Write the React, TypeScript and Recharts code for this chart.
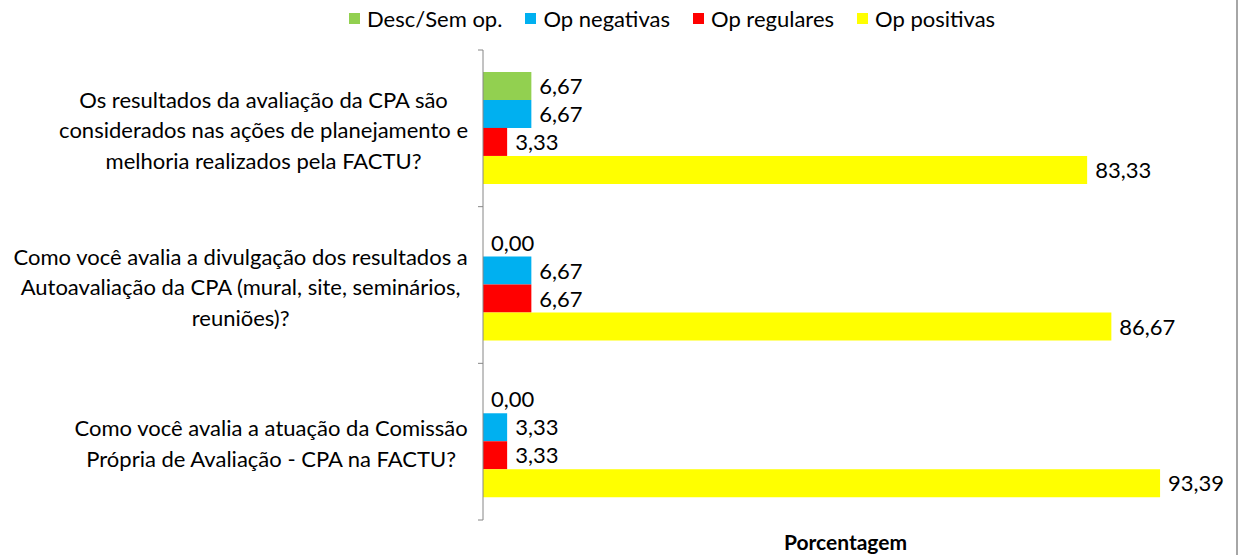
import React from 'react';
import { BarChart, Bar, XAxis, YAxis, Legend, LabelList } from 'recharts';

const categories = [
  'Os resultados da avaliação da CPA são\nconsiderados nas ações de planejamento e\nmelhoria realizados pela FACTU?',
  'Como você avalia a divulgação dos resultados a\nAutoavaliação da CPA (mural, site, seminários,\nreuniões)?',
  'Como você avalia a atuação da Comissão\nPrópria de Avaliação - CPA na FACTU?',
];
const descSemOp = [6.67, 0, 0];
const opNegativas = [6.67, 6.67, 3.33];
const opRegulares = [3.33, 6.67, 3.33];
const opPositivas = [83.33, 86.67, 93.39];
const seriesNames = ['Desc/Sem op.', 'Op negativas', 'Op regulares', 'Op positivas'];
const xDomain = [0, 100];
const axisTitle = 'Porcentagem';

const FONT = 'Lato, Carlito, Calibri, sans-serif';
const W = 1238;
const H = 555;
const PLOT_LEFT = 483;
const LABEL_RIGHT = 468;
const AXIS_GRAY = '#868686';

const series = [
  { key: 'desc', name: seriesNames[0], color: '#92D050' },
  { key: 'neg', name: seriesNames[1], color: '#00B0F0' },
  { key: 'reg', name: seriesNames[2], color: '#FF0000' },
  { key: 'pos', name: seriesNames[3], color: '#FFFF00' },
];

const data = categories.map((name, i) => ({
  name,
  desc: descSemOp[i],
  neg: opNegativas[i],
  reg: opRegulares[i],
  pos: opPositivas[i],
}));

let ctx: CanvasRenderingContext2D | null = null;
const measure = (s: string) => {
  if (!ctx) ctx = document.createElement('canvas').getContext('2d');
  if (!ctx) return s.length * 10;
  ctx.font = `22px ${FONT}`;
  return ctx.measureText(s).width;
};

const fmt = (v: any) => Number(v).toFixed(2).replace('.', ',');

const ValueLabel = (props: any) => {
  const { x, y, width, height, value } = props;
  if (value === undefined || value === null) return null;
  return (
    <text
      x={Number(x) + Number(width || 0) + 8}
      y={Number(y) + Number(height) / 2}
      dy="0.36em"
      fontFamily={FONT}
      fontSize={22}
      fill="#000"
    >
      {fmt(value)}
    </text>
  );
};

const CategoryTick = (props: any) => {
  const { y, payload, index } = props;
  const lines = String(payload.value).split('\n');
  const widest = Math.max(...lines.map(measure));
  const cx = LABEL_RIGHT - widest / 2;
  const half = payload.offset || (520 - 50) / categories.length / 2;
  const n = lines.length;
  return (
    <g>
      <line x1={PLOT_LEFT} x2={PLOT_LEFT - 5} y1={y - half} y2={y - half} stroke={AXIS_GRAY} />
      {index === categories.length - 1 && (
        <line x1={PLOT_LEFT} x2={PLOT_LEFT - 5} y1={y + half} y2={y + half} stroke={AXIS_GRAY} />
      )}
      <text textAnchor="middle" fontSize={22} fontFamily={FONT} fill="#000">
        {lines.map((l, i) => (
          <tspan key={i} x={cx} y={y + 10 + (i - (n - 1) / 2) * 30.5}>
            {l}
          </tspan>
        ))}
      </text>
    </g>
  );
};

const LegendContent = () => (
  <div
    style={{
      height: 36,
      display: 'flex',
      alignItems: 'center',
      paddingLeft: 349,
      fontFamily: FONT,
      fontSize: 22,
      color: '#000',
    }}
  >
    {series.map((s) => (
      <div key={s.key} style={{ display: 'flex', alignItems: 'center', marginRight: 23 }}>
        <span style={{ width: 11, height: 11, background: s.color, marginRight: 7, display: 'inline-block' }} />
        {s.name}
      </div>
    ))}
  </div>
);

export default function App() {
  return (
    <div style={{ position: 'absolute', left: 0, top: 0, width: W, height: H, background: '#fff' }}>
      <BarChart
        width={W}
        height={H}
        data={data}
        layout="vertical"
        margin={{ top: 14, right: 30, bottom: 0, left: 0 }}
        barCategoryGap="14%"
        barGap={0}
      >
        <Legend
          verticalAlign="top"
          align="left"
          content={<LegendContent />}
          wrapperStyle={{ left: 0, top: 0, width: W }}
        />
        <XAxis
          type="number"
          domain={xDomain}
          tick={false}
          axisLine={false}
          tickLine={false}
          height={35}
          label={{
            value: axisTitle,
            position: 'insideBottom',
            offset: 5,
            style: { fontFamily: FONT, fontSize: 21, fontWeight: 'bold', fill: '#000' },
          }}
        />
        <YAxis
          type="category"
          dataKey="name"
          width={PLOT_LEFT}
          axisLine={{ stroke: AXIS_GRAY }}
          tickLine={false}
          tick={<CategoryTick />}
          interval={0}
        />
        {series.map((s) => (
          <Bar
            key={s.key}
            dataKey={s.key}
            name={s.name}
            fill={s.color}
            minPointSize={0.01}
            isAnimationActive={false}
          >
            <LabelList dataKey={s.key} content={<ValueLabel />} />
          </Bar>
        ))}
      </BarChart>
      <div style={{ position: 'absolute', left: 1236, top: 0, width: 2, height: H, background: '#a6a6a6' }} />
    </div>
  );
}
